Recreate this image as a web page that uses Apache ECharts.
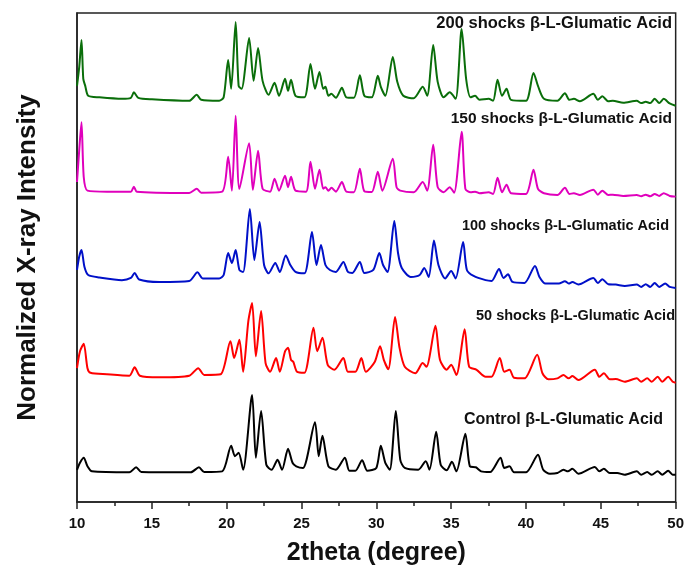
<!DOCTYPE html>
<html>
<head>
<meta charset="utf-8">
<script src="https://cdn.jsdelivr.net/npm/echarts@6/dist/echarts.min.js"></script>
<style>
  html, body { margin: 0; padding: 0; background: #fff; }
  #chart { width: 687px; height: 575px; }
</style>
</head>
<body>
<div id="chart"></div>
<script>
// XRD patterns, 2theta (deg) vs intensity above each pattern's own baseline (a.u.)
const names = ['200 shocks β-L-Glumatic Acid', '150 shocks β-L-Glumatic Acid', '100 shocks β-L-Glumatic Acid', '50 shocks β-L-Glumatic Acid', 'Control β-L-Glumatic Acid'];
const colors = ['#0a6e0a', '#e000bc', '#0010c8', '#ff0000', '#000000'];
const offsets = [397, 306, 214.5, 119.5, 27.3];

const tt200 = [10.0,10.15,10.3,10.42,10.55,10.75,11.5,13.0,13.6,13.8,14.1,15,17.5,18.0,18.3,19.5,19.8,20.1,20.3,20.6,20.8,21.0,21.5,21.8,22.1,22.4,22.8,23.2,23.5,23.9,24.1,24.3,24.6,25.2,25.6,25.9,26.2,26.45,26.6,26.8,27.0,27.3,27.7,28.0,28.5,28.9,29.2,29.7,30.1,30.3,30.6,31.1,31.4,31.8,32.5,33.1,33.4,33.8,34.1,34.5,34.9,35.3,35.7,36.0,36.3,36.6,36.9,37.5,37.8,38.1,38.4,38.7,39.0,40.0,40.5,40.8,41.2,42.1,42.6,42.9,43.2,43.6,44.5,44.8,45.1,45.5,45.8,46.5,47.4,47.7,48.0,48.3,48.6,48.9,49.2,49.6,50.0];
const i200 = [20,39,66,27,20,10,8.5,7,8,13.5,8,6.5,5,11,6,5,8.5,46,17,84,20,17,68,25,58,25,11,23,10,27,15,26,10,8.5,42,17,34,17,19,10,12,8,18,8.5,8,30.5,10,8.5,30,19,10,49,24,10,7.5,19,10,61,24,8.5,13.5,7,77,27,8.5,10,6,7,5,26,10,17,6,5,33,20,7,5,12.5,6,7,4.5,12,6,9.5,4.5,5,3,5,2.7,4,2.7,7,2.7,7,2.4,0];

const tt150 = [10.0,10.15,10.3,10.45,10.7,12.0,13.6,13.8,14.0,17.5,18.0,18.3,19.7,20.1,20.35,20.6,20.85,21.5,21.75,22.1,22.4,22.9,23.2,23.5,23.9,24.1,24.3,24.6,25.3,25.6,25.9,26.2,26.45,26.6,26.8,27.0,27.3,27.7,28.0,28.5,28.9,29.2,29.7,30.1,30.4,31.1,31.35,31.6,32.5,33.1,33.4,33.8,34.1,34.5,34.9,35.2,35.7,35.95,36.3,36.6,36.9,37.5,37.8,38.1,38.4,38.7,39.0,40.0,40.5,40.8,41.2,42.1,42.6,42.9,43.2,43.6,44.5,44.8,45.1,45.5,45.8,46.5,47.4,47.7,48.0,48.3,48.6,48.9,49.2,49.6,50.0];
const i150 = [14.6,47,74.6,19.7,6,5,5,10,5,3.7,7.8,4,5,40,6,81,7.8,53.6,6.8,46,7.8,5,18,6,21,9.5,20,6,5,35,7.8,27,7.8,9.5,6,8.8,5,14.6,5,4.4,28,5.4,4.7,25,6,38,9.5,6,4.4,14.6,6,52,9.5,4.4,9.5,4,65,7.8,4.4,5,3.4,4.4,2.7,19,4.4,12,3.4,2.7,27,7.8,3.4,1.7,8.8,2.7,3.4,1.7,7,2,6,1.7,2,0.7,1.7,0.3,2,0.3,2.7,0.7,3.4,0.7,0];

const tt100 = [10.0,10.15,10.3,10.5,10.75,11.5,13.0,13.6,13.85,14.15,15.5,17.5,18.05,18.4,19.5,19.8,20.1,20.35,20.6,20.85,21.1,21.55,21.85,22.2,22.5,22.8,23.25,23.55,23.95,24.25,24.6,25.2,25.7,26.0,26.3,26.6,26.9,27.3,27.8,28.1,28.4,28.9,29.2,29.8,30.2,30.45,30.75,31.2,31.45,31.7,32.3,32.9,33.2,33.5,33.85,34.15,34.6,35.0,35.3,35.8,36.05,36.5,37.3,37.7,38.2,38.5,38.8,39.1,39.9,40.6,40.9,41.3,42.2,42.6,42.85,43.1,43.5,44.5,44.8,45.1,45.5,46.0,46.6,47.4,47.7,48.0,48.3,48.6,48.9,49.3,49.6,50.0];
const i100 = [18,31.5,38,21,13,10.5,7.8,10,15,8.5,6,7,15.6,9.5,9.5,13,35,25,38,18,16,79,28,66,23,14.6,25,16,32.5,23,16,14.6,56,23,43,23,18,16,26,16,15,26,15,18,35,23,16,67,35,20,11,13,20,11,47.5,23,9.5,17,9.5,46,18,12,7.8,7,19,10,13.6,6,5,22,11,4.4,4.4,6.8,4.4,6,3.4,10,5,8.8,3.7,3.4,2,3.4,1,3.7,1,5,1,4.4,1,0];

const tt50 = [10.0,10.2,10.45,10.7,10.9,12.0,13.5,13.85,14.2,15.5,17.5,18.1,18.5,19.6,20.25,20.5,20.85,21.1,21.45,21.7,21.95,22.3,22.6,22.9,23.3,23.55,23.9,24.1,24.3,24.45,24.7,25.2,25.8,26.05,26.4,26.75,27.2,27.8,28.1,28.6,29.0,29.3,29.9,30.25,30.5,30.8,31.25,31.55,31.9,32.6,33.1,33.35,33.95,34.25,34.7,35.0,35.35,35.9,36.2,36.7,37.3,37.7,38.25,38.55,38.9,39.2,39.9,40.75,41.1,41.5,42.1,42.5,42.85,43.1,43.5,44.6,44.9,45.2,45.6,46.0,46.6,47.4,47.7,48.1,48.4,48.8,49.1,49.5,49.8,50.0];
const i50 = [14.6,31.5,39,14.6,10,8.5,7,15.6,7,5.4,7,14.6,7.8,8.5,41.7,24.7,43,11,62,80,26.4,72,19.7,11,24.7,11,31.5,35,23,21,11,10,55,31.5,45,18,13,24.7,11,11,24.7,11,21,36.6,23,13.6,66,35,16,9.5,19.7,16,57,23,13,18,7.8,53.6,16,13,6,6,24.7,11,13,5,4.4,28,9.5,3.4,4.4,7.8,4.4,6.8,2.7,13,6,9.5,3.4,3.7,1,4.4,1,4.4,1,6,1,6,1,0];

const ttCtrl = [10.0,10.2,10.45,10.7,11.0,13.5,13.95,14.3,17.6,18.15,18.5,19.7,20.3,20.55,20.8,21.1,21.7,21.95,22.3,22.65,23.0,23.4,23.7,24.1,24.4,24.65,25.1,25.9,26.15,26.4,26.8,27.3,27.9,28.2,28.6,29.05,29.4,30.0,30.3,30.6,30.9,31.3,31.6,31.9,32.8,33.3,33.55,34.0,34.3,34.7,35.05,35.35,35.95,36.25,36.65,37.0,37.6,38.3,38.55,38.9,39.2,40.0,40.8,41.15,41.6,42.1,42.5,42.8,43.1,43.5,44.6,44.9,45.2,45.6,46.1,46.6,47.4,47.7,48.1,48.4,48.8,49.1,49.5,49.8,50.0];
const iCtrl = [5,12,17,8.5,3.4,2.4,7.5,2.7,2.4,7.5,2.7,3.4,29,18.6,22,5,80,17,64,10,5,15,5,26,12,8.5,6.8,52.5,18.6,39,8.5,5,17,4,4,14.6,4,6.8,29,12,5,64,15,6.8,5,13.6,5,43,10,4.4,13,3.4,41,8.5,7.5,3.4,2.7,17,6.8,8.5,2.4,2.4,20,5,1,1.7,5,3.4,6,1,7.8,3.4,6,1.7,1.7,0,3.4,0,2.7,0,3.4,0,4,0,0];

const xTicks = [10, 15, 20, 25, 30, 35, 40, 45, 50];

const patterns = [[tt200, i200], [tt150, i150], [tt100, i100], [tt50, i50], [ttCtrl, iCtrl]];
// caption placement: right edge x, centre y, font size
const labelPos = [[672, 25, 16.5], [672, 120, 15.5], [669, 227, 14.5], [675, 317, 14.5], [663, 421, 16]];

const chart = echarts.init(document.getElementById('chart'));

const series = patterns.map(([xs, ys], k) => ({
  name: names[k],
  type: 'line',
  showSymbol: false,
  symbol: 'none',
  smooth: 0.25,
  lineStyle: { color: colors[k], width: 2 },
  itemStyle: { color: colors[k] },
  data: xs.map((x, i) => [x, offsets[k] + ys[i]])
}));

chart.setOption({
  animation: false,
  backgroundColor: '#fff',
  grid: { left: 77, right: 7, top: 13, bottom: 73, show: true, borderColor: '#222', borderWidth: 1.5 },
  xAxis: {
    type: 'value', min: xTicks[0], max: xTicks[xTicks.length - 1], interval: 5,
    axisLine: { show: true, lineStyle: { color: '#222', width: 1.5 } },
    axisTick: { show: true, inside: false, length: 7, lineStyle: { color: '#222', width: 1.5 } },
    minorTick: { show: true, splitNumber: 2, length: 4, lineStyle: { color: '#222', width: 1.5 } },
    splitLine: { show: false },
    axisLabel: { color: '#111', fontSize: 15, fontWeight: 'bold', fontFamily: 'Liberation Sans', margin: 14 },
    name: '2theta (degree)', nameLocation: 'middle', nameGap: 39,
    nameTextStyle: { color: '#111', fontSize: 25, fontWeight: 'bold', fontFamily: 'Liberation Sans' }
  },
  yAxis: {
    type: 'value', min: 0, max: 490,
    axisLine: { show: true, lineStyle: { color: '#222', width: 1.5 } },
    axisTick: { show: false }, axisLabel: { show: false }, splitLine: { show: false },
    name: 'Normalized X-ray Intensity', nameLocation: 'middle', nameGap: 36,
    nameTextStyle: { color: '#111', fontSize: 26, fontWeight: 'bold', fontFamily: 'Liberation Sans' }
  },
  graphic: names.map((n, k) => ({
    type: 'text', right: 687 - labelPos[k][0], top: labelPos[k][1] - labelPos[k][2] * 0.6,
    style: { text: n, fill: '#111', font: 'bold ' + labelPos[k][2] + 'px "Liberation Sans"' }
  })),
  series: series
});
</script>
</body>
</html>
